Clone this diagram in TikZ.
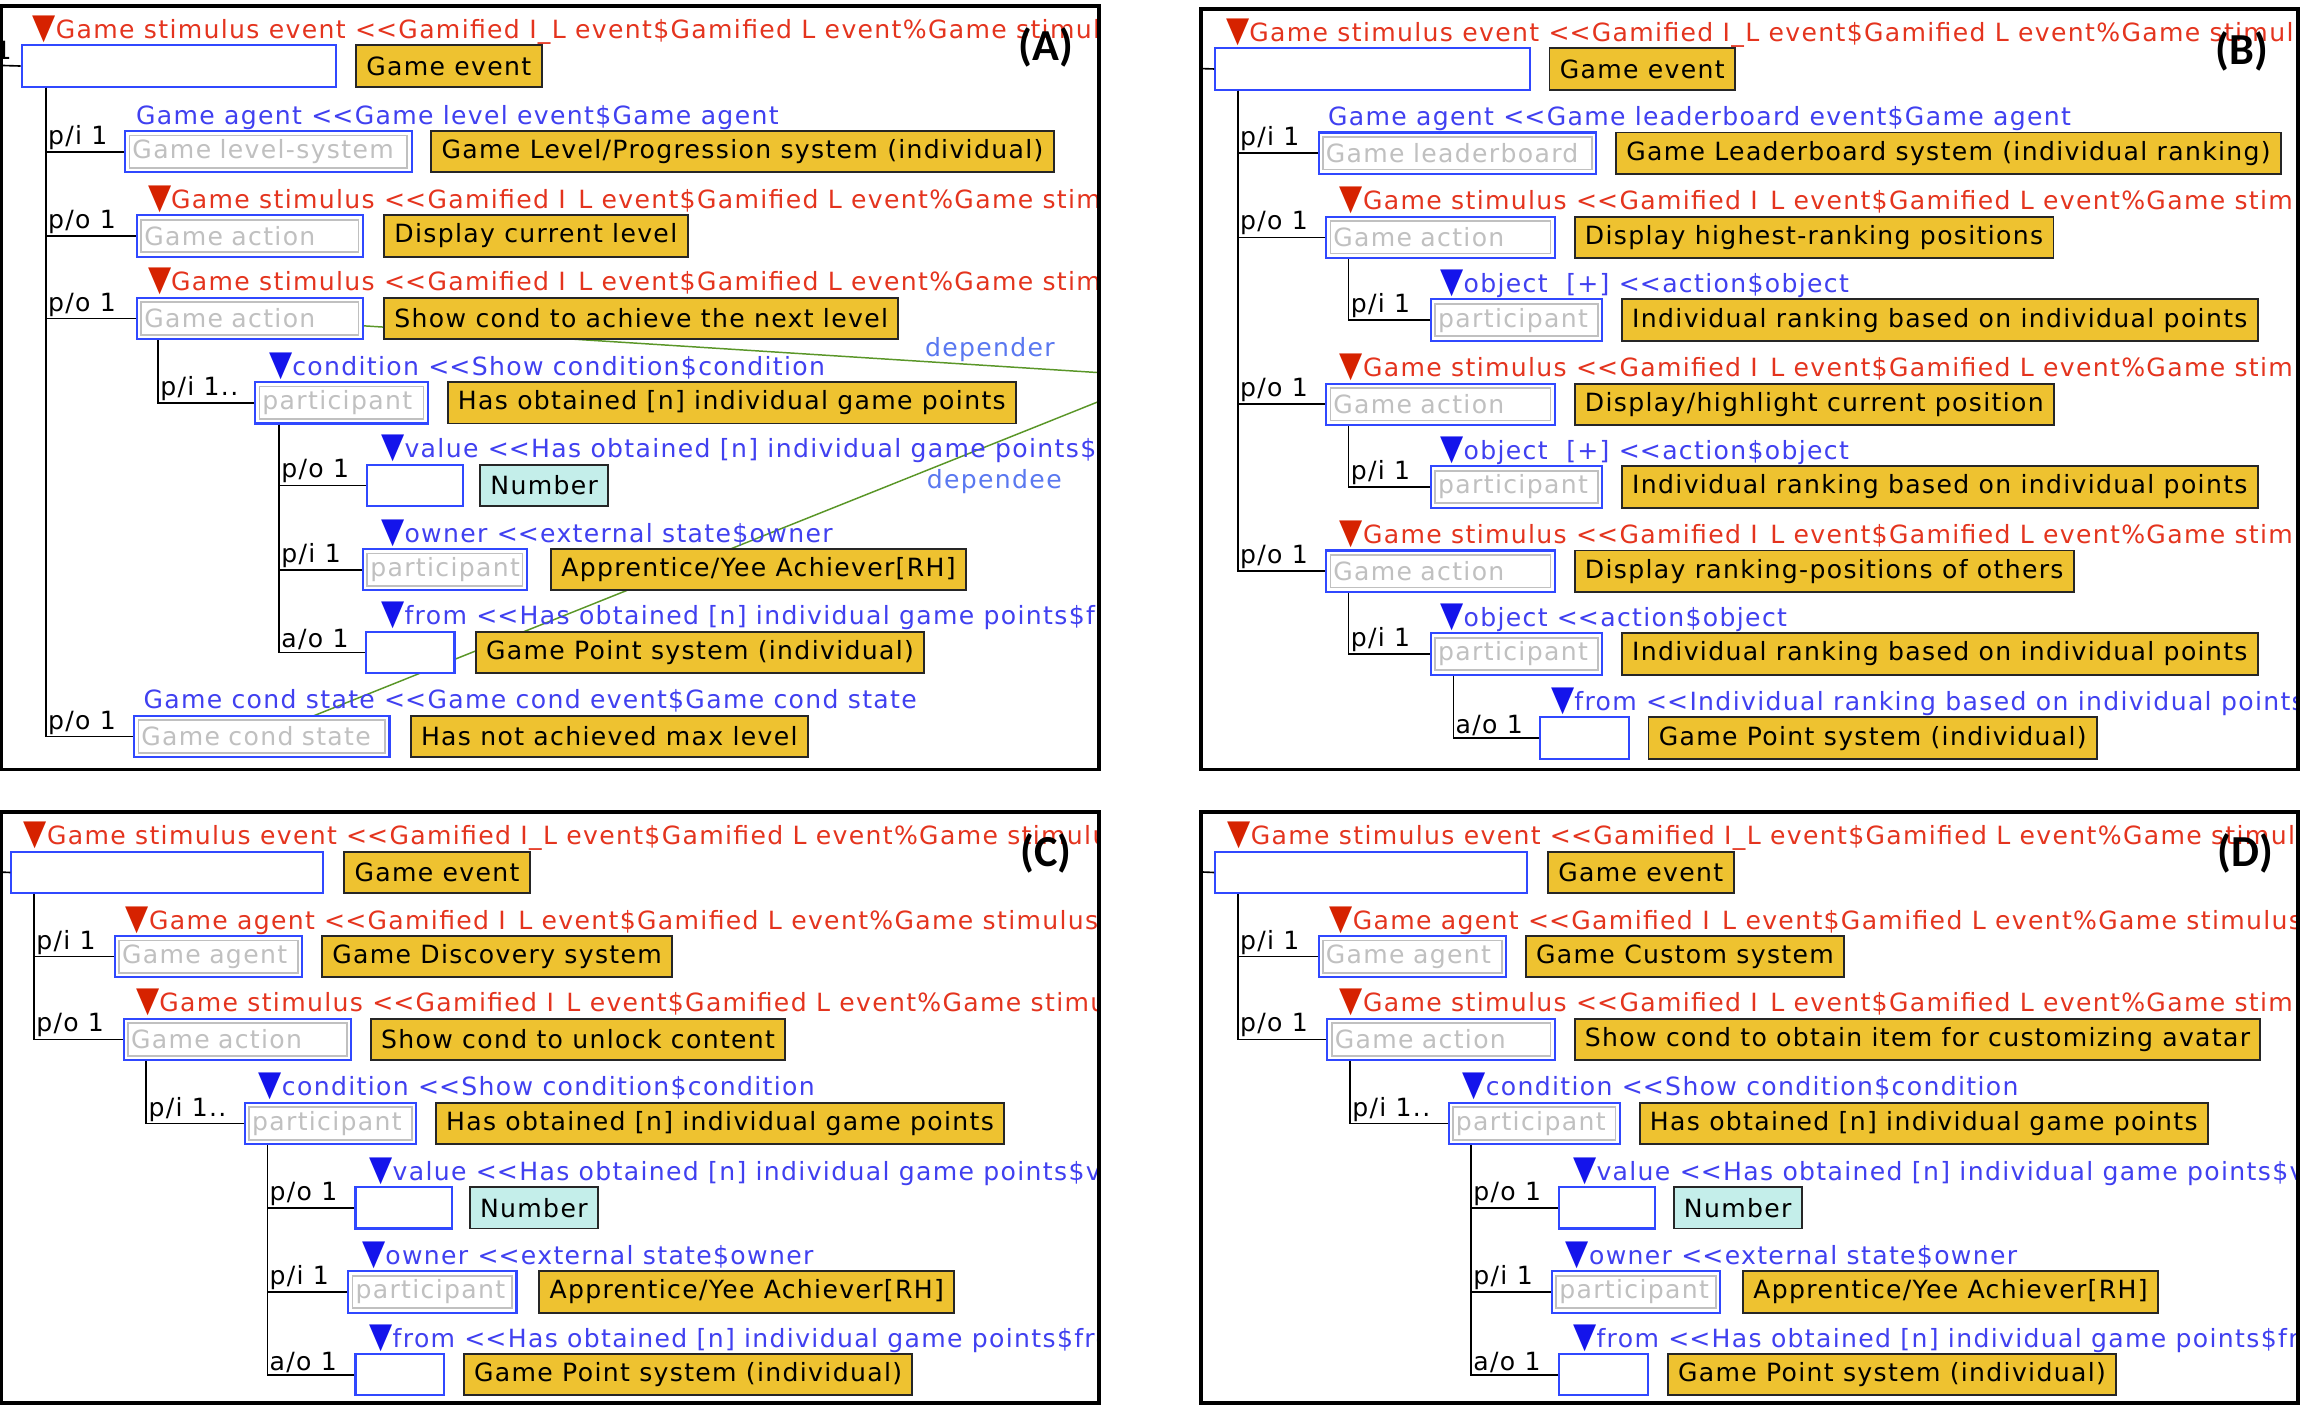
\documentclass[tikz,border=0pt]{standalone}
\usepackage{graphicx}
\usepackage{fontspec}
\setmainfont{DejaVu Sans}[LetterSpace=5.3]
\newfontfamily\tagfont{Carlito}
\usetikzlibrary{positioning,backgrounds}

\definecolor{cRed}{RGB}{228,52,30}
\definecolor{cRedTri}{RGB}{214,34,0}
\definecolor{cBlue}{RGB}{64,64,240}
\definecolor{cBlueTri}{RGB}{20,20,235}
\definecolor{cBox}{RGB}{48,72,255}
\definecolor{cYellow}{RGB}{238,194,48}
\definecolor{cCyan}{RGB}{196,238,234}
\definecolor{cField}{RGB}{192,192,192}
\definecolor{cLink}{RGB}{90,150,40}
\definecolor{cLinkText}{RGB}{90,120,240}

\newcommand{\rtri}{\textcolor{cRedTri}{\scalebox{1.2}[1.4]{▼}}}
\newcommand{\btri}{\textcolor{cBlueTri}{\scalebox{1.2}[1.4]{▼}}}

\begin{document}
\begin{tikzpicture}[x=1pt,y=-1pt,
 font=\fontsize{17pt}{21pt}\selectfont,
 slotbox/.style={draw=cBox,line width=1.4pt,fill=white,anchor=north west,
  minimum width=#1,minimum height=28pt,inner sep=0pt},
 fieldbox/.style={slotbox=#1,inner xsep=5pt,text width=#1-10pt,align=left,text=cField,
  path picture={\draw[cField,line width=1.2pt]
   ([shift={(3pt,-3pt)}]path picture bounding box.north west) rectangle
   ([shift={(-3pt,3pt)}]path picture bounding box.south east);}},
 tagbox/.style={draw=black!85,fill=cYellow,line width=1.3pt,minimum height=28pt,
  inner xsep=7pt,inner ysep=0pt},
 numbox/.style={tagbox,fill=cCyan},
 headtext/.style={anchor=base west,inner sep=0pt,text=cBlue},
 redhead/.style={headtext,text=cRed},
 cardtext/.style={anchor=south west,inner sep=1pt},
 branchline/.style={draw=black,line width=1.1pt},
 panelframe/.style={draw=black,line width=2.6pt},
 deplink/.style={draw=cLink,line width=1pt},
 deplabel/.style={text=cLinkText,inner sep=2pt},
 panelid/.style={font={\tagfont\bfseries\fontsize{30pt}{30pt}\selectfont},inner sep=0pt}]

\useasboundingbox (0,0) rectangle (1568,951.9);
\def\ltlt{<\kern0pt<}
\def\stimev{Game stimulus event \ltlt Gamified I\_L event\$Gamified L event\%Game stimulus event}
\def\stim{Game stimulus \ltlt Gamified I\hspace{.5em}L event\$Gamified L event\%Game stimulus event}
\def\agent{Game agent \ltlt Gamified I\hspace{.5em}L event\$Gamified L event\%Game stimulus event}
\def\gpts{Has obtained [n] individual game points}

\begin{scope} %A
 \clip (1,4) rectangle (744,521);
 \node[slotbox=213] (evA) at (14,30) {};
 \node[redhead] at ([shift={(8pt,4pt)}]evA.north west) {\rtri\stimev};
 \node[tagbox,right=12pt of evA] (tevA) {Game event};
 \node[anchor=base east,inner sep=0pt] (oneA) at (8,40) {1};
 \coordinate (inA) at (-10,44);
 \draw[branchline] (inA) -- (evA.west);

 \node[fieldbox=194] (agA) at (84,88) {\mbox{Game level-system}};
 \node[headtext] at ([shift={(8pt,4pt)}]agA.north west) {Game agent \ltlt Game level event\$Game agent};
 \node[tagbox,right=12pt of agA] (tagA) {Game Level/Progression system (individual)};
 \draw[branchline] ([xshift=17pt]evA.south west) |- node[cardtext]{p/i 1} (agA.west);

 \node[fieldbox=153] (acA1) at (92,145) {Game action};
 \node[redhead] at ([shift={(8pt,4pt)}]acA1.north west) {\rtri\stim};
 \node[tagbox,right=13pt of acA1] (tacA1) {Display current level};
 \draw[branchline] ([xshift=17pt]evA.south west) |- node[cardtext]{p/o 1} (acA1.west);

 \node[fieldbox=153] (acA2) at (92,201) {Game action};
 \node[redhead] at ([shift={(8pt,4pt)}]acA2.north west) {\rtri\stim};
 \node[tagbox,right=13pt of acA2] (tacA2) {Show cond to achieve the next level};
 \draw[branchline] ([xshift=17pt]evA.south west) |- node[cardtext]{p/o 1} (acA2.west);

 \node[fieldbox=117] (cdA) at (172,258) {participant};
 \node[headtext] at ([shift={(10pt,4pt)}]cdA.north west) {\btri condition \ltlt Show condition\$condition};
 \node[tagbox,right=12pt of cdA] (tcdA) {\gpts};
 \draw[branchline] ([xshift=15pt]acA2.south west) |- node[cardtext]{p/i 1..} (cdA.west);

 \node[slotbox=65] (vaA) at (248,314) {};
 \node[headtext] at ([shift={(10pt,4pt)}]vaA.north west) {\btri value \ltlt \gpts\$value};
 \node[numbox,right=10pt of vaA] (nvaA) {Number};
 \draw[branchline] ([xshift=17pt]cdA.south west) |- node[cardtext]{p/o 1} (vaA.west);

 \node[fieldbox=111] (owA) at (245,371) {participant};
 \node[headtext] at ([shift={(13pt,4pt)}]owA.north west) {\btri owner \ltlt external state\$owner};
 \node[tagbox,right=15pt of owA] (towA) {Apprentice/Yee Achiever[RH]};
 \draw[branchline] ([xshift=17pt]cdA.south west) |- node[cardtext]{p/i 1} (owA.west);

 \node[slotbox=60] (frA) at (247,427) {};
 \node[headtext] at ([shift={(11pt,4pt)}]frA.north west) {\btri from \ltlt \gpts\$from};
 \node[tagbox,right=13pt of frA] (tfrA) {Game Point system (individual)};
 \draw[branchline] ([xshift=17pt]cdA.south west) |- node[cardtext]{a/o 1} (frA.west);

 \node[fieldbox=173] (csA) at (90,484) {Game cond state};
 \node[headtext] at ([shift={(7pt,4pt)}]csA.north west) {Game cond state \ltlt Game cond event\$Game cond state};
 \node[tagbox,right=13pt of csA] (tcsA) {Has not achieved max level};
 \draw[branchline] ([xshift=17pt]evA.south west) |- node[cardtext]{p/o 1} (csA.west);

 \coordinate (dprA) at (760,253.3);
 \coordinate (dpeA) at (760,265.4);
 \begin{scope}[on background layer]
  \clip (1,4) rectangle (744,521);
  \draw[deplink] (acA2.center) -- node[pos=0.848,above,deplabel]{depender} (dprA);
  \draw[deplink] (csA.center) -- node[pos=0.851,below=15pt,deplabel]{dependee} (dpeA);
 \end{scope}
\end{scope}
\draw[panelframe] (1,4) rectangle (744,521);
\node[panelid] (idA) at (708,32) {(A)};

\begin{scope} %B
 \clip (813,6) rectangle (1556,521);
 \node[slotbox=213] (evB) at (822,32) {};
 \node[redhead] at ([shift={(8pt,4pt)}]evB.north west) {\rtri\stimev};
 \node[tagbox,right=12pt of evB] (tevB) {Game event};
 \coordinate (inB) at (800,46);
 \draw[branchline] (inB) -- (evB.west);

 \node[fieldbox=188] (agB) at (892,89) {Game leaderboard};
 \node[headtext] at ([shift={(7pt,4pt)}]agB.north west) {Game agent \ltlt Game leaderboard event\$Game agent};
 \node[tagbox,right=12pt of agB] (tagB) {Game Leaderboard system (individual ranking)};
 \draw[branchline] ([xshift=16pt]evB.south west) |- node[cardtext]{p/i 1} (agB.west);

 \foreach \i/\yy/\act/\obj in {1/146/{Display highest-ranking positions}/{object\ \ [+]},
   2/259/{Display/highlight current position}/{object\ \ [+]},
   3/372/{Display ranking-positions of others}/{object}} {
  \node[fieldbox=155] (acB\i) at (897,\yy) {Game action};
  \node[redhead] at ([shift={(10pt,4pt)}]acB\i.north west) {\rtri\stim};
  \node[tagbox,right=12pt of acB\i] (tacB\i) {\act};
  \draw[branchline] ([xshift=16pt]evB.south west) |- node[cardtext]{p/o 1} (acB\i.west);
  \node[fieldbox=116] (obB\i) at (968,\yy+56) {participant};
  \node[headtext] at ([shift={(7pt,4pt)}]obB\i.north west) {\btri\obj\ \ltlt action\$object};
  \node[tagbox,right=12pt of obB\i] (tobB\i) {Individual ranking based on individual points};
  \draw[branchline] ([xshift=16pt]acB\i.south west) |- node[cardtext]{p/i 1} (obB\i.west);
 }

 \node[slotbox=60] (frB) at (1042,485) {};
 \node[headtext] at ([shift={(8pt,4pt)}]frB.north west) {\btri from \ltlt Individual ranking based on individual points\$from};
 \node[tagbox,right=12pt of frB] (tfrB) {Game Point system (individual)};
 \draw[branchline] ([xshift=16pt]obB3.south west) |- node[cardtext]{a/o 1} (frB.west);
\end{scope}
\draw[panelframe] (813,6) rectangle (1556,521);
\node[panelid] (idB) at (1518,35) {(B)};

\foreach \px/\fl/\fr/\pid/\sys/\act in {0/1/744/C/{Game Discovery system}/{Show cond to unlock content},
  815/-2/741/D/{Game Custom system}/{Show cond to obtain item for customizing avatar}} {
 \begin{scope}[shift={(\px,550)}] %C and D
  \begin{scope}
   \clip (\fl,0) rectangle (\fr,400);
   \node[slotbox=211] (ev\pid) at (7,26) {};
   \node[redhead] at ([shift={(9pt,4pt)}]ev\pid.north west) {\rtri\stimev};
   \node[tagbox,right=13pt of ev\pid] (tev\pid) {Game event};
   \coordinate (in\pid) at (-10,40);
   \draw[branchline] (in\pid) -- (ev\pid.west);

   \node[fieldbox=127] (ag\pid) at (77,83) {Game agent};
   \node[redhead] at ([shift={(8pt,4pt)}]ag\pid.north west) {\rtri\agent};
   \node[tagbox,right=12pt of ag\pid] (tag\pid) {\sys};
   \draw[branchline] ([xshift=16pt]ev\pid.south west) |- node[cardtext]{p/i 1} (ag\pid.west);

   \node[fieldbox=154] (ac\pid) at (83,139) {Game action};
   \node[redhead] at ([shift={(9pt,4pt)}]ac\pid.north west) {\rtri\stim};
   \node[tagbox,right=12pt of ac\pid] (tac\pid) {\act};
   \draw[branchline] ([xshift=16pt]ev\pid.south west) |- node[cardtext]{p/o 1} (ac\pid.west);

   \node[fieldbox=116] (cd\pid) at (165,196) {participant};
   \node[headtext] at ([shift={(10pt,4pt)}]cd\pid.north west) {\btri condition \ltlt Show condition\$condition};
   \node[tagbox,right=12pt of cd\pid] (tcd\pid) {\gpts};
   \draw[branchline] ([xshift=16pt]ac\pid.south west) |- node[cardtext]{p/i 1..} (cd\pid.west);

   \node[slotbox=65] (va\pid) at (240,253) {};
   \node[headtext] at ([shift={(10pt,4pt)}]va\pid.north west) {\btri value \ltlt \gpts\$value};
   \node[numbox,right=11pt of va\pid] (nva\pid) {Number};
   \draw[branchline] ([xshift=16pt]cd\pid.south west) |- node[cardtext]{p/o 1} (va\pid.west);

   \node[fieldbox=114] (ow\pid) at (235,310) {participant};
   \node[headtext] at ([shift={(10pt,4pt)}]ow\pid.north west) {\btri owner \ltlt external state\$owner};
   \node[tagbox,right=14pt of ow\pid] (tow\pid) {Apprentice/Yee Achiever[RH]};
   \draw[branchline] ([xshift=16pt]cd\pid.south west) |- node[cardtext]{p/i 1} (ow\pid.west);

   \node[slotbox=60] (fr\pid) at (240,366) {};
   \node[headtext] at ([shift={(10pt,4pt)}]fr\pid.north west) {\btri from \ltlt \gpts\$from};
   \node[tagbox,right=12pt of fr\pid] (tfr\pid) {Game Point system (individual)};
   \draw[branchline] ([xshift=16pt]cd\pid.south west) |- node[cardtext]{a/o 1} (fr\pid.west);
  \end{scope}
  \draw[panelframe] (\fl,0) rectangle (\fr,400);
  \node[panelid] (id\pid) at (\fr-36,28) {(\pid)};
 \end{scope}
}

\end{tikzpicture}
\end{document}
